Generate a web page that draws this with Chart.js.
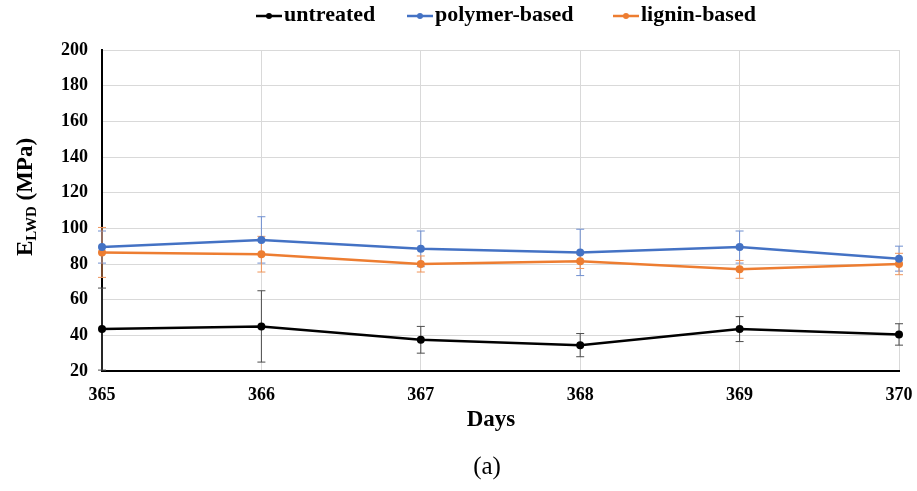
<!DOCTYPE html>
<html>
<head>
<meta charset="utf-8">
<script src="https://cdn.jsdelivr.net/npm/chart.js@4"></script>
<style>
  html, body { margin: 0; padding: 0; background: #fff; }
  #wrap { width: 917px; height: 491px; }
</style>
</head>
<body>
<div id="wrap"><canvas id="chart" width="917" height="491"></canvas></div>
<script>
const days = ['365', '366', '367', '368', '369', '370'];

const untreated = [43.5, 45, 37.5, 34.5, 43.5, 40.5];
const untreatedErr = [23, 20, 7.5, 6.5, 7, 6];

const polymer = [89.5, 93.5, 88.5, 86.5, 89.5, 83];
const polymerErr = [9, 13, 10, 13, 9, 7];

const lignin = [86.5, 85.5, 80, 81.5, 77, 80];
const ligninErr = [14, 10, 4.5, 4, 5, 6];

const serif = '"Liberation Serif", "Times New Roman", serif';

const series = [
  { label: 'untreated', data: untreated, err: untreatedErr, color: '#000000', errColor: '#4d4d4d' },
  { label: 'polymer-based', data: polymer, err: polymerErr, color: '#4472C4', errColor: '#6f8fd0' },
  { label: 'lignin-based', data: lignin, err: ligninErr, color: '#ED7D31', errColor: '#f0955a' }
];

// whiskers with caps, drawn under the lines
const errorBars = {
  id: 'errorBars',
  beforeDatasetsDraw(chart) {
    const { ctx, scales: { x, y } } = chart;
    ctx.save();
    ctx.lineWidth = 1;
    chart.data.datasets.forEach((ds, i) => {
      const s = series[i];
      ctx.strokeStyle = s.errColor;
      ds.data.forEach((v, j) => {
        const px = x.getPixelForValue(j);
        const top = y.getPixelForValue(v + s.err[j]);
        const bot = y.getPixelForValue(v - s.err[j]);
        ctx.beginPath();
        ctx.moveTo(px, top); ctx.lineTo(px, bot);
        ctx.moveTo(px - 4, top); ctx.lineTo(px + 4, top);
        ctx.moveTo(px - 4, bot); ctx.lineTo(px + 4, bot);
        ctx.stroke();
      });
    });
    ctx.restore();
  }
};

// legend, axis titles and caption
const labels = {
  id: 'labels',
  afterDraw(chart) {
    const ctx = chart.ctx;
    ctx.save();
    ctx.fillStyle = '#000';
    ctx.textBaseline = 'middle';

    // legend row
    const legendX = [256, 407, 613];
    ctx.font = 'bold 22px ' + serif;
    series.forEach((s, i) => {
      const lx = legendX[i];
      ctx.strokeStyle = s.color;
      ctx.lineWidth = 2.5;
      ctx.beginPath();
      ctx.moveTo(lx, 16); ctx.lineTo(lx + 26, 16);
      ctx.stroke();
      ctx.fillStyle = s.color;
      ctx.beginPath();
      ctx.arc(lx + 13, 16, 3, 0, Math.PI * 2);
      ctx.fill();
      ctx.fillStyle = '#000';
      ctx.textAlign = 'left';
      ctx.fillText(s.label, lx + 28, 15);
    });

    // x title and caption
    ctx.textAlign = 'center';
    ctx.font = 'bold 23px ' + serif;
    ctx.fillText('Days', 491, 420);
    ctx.font = '25px ' + serif;
    ctx.fillText('(a)', 487, 467);

    // y title with subscript
    ctx.translate(26, 197);
    ctx.rotate(-Math.PI / 2);
    ctx.textAlign = 'left';
    const big = 'bold 23px ' + serif;
    const small = 'bold 15px ' + serif;
    ctx.font = big;
    const wE = ctx.measureText('E').width;
    const wRest = ctx.measureText(' (MPa)').width;
    ctx.font = small;
    const wSub = ctx.measureText('LWD').width;
    let cx = -(wE + wSub + wRest) / 2;
    ctx.font = big;
    ctx.fillText('E', cx, 0);
    cx += wE;
    ctx.font = small;
    ctx.fillText('LWD', cx, 6);
    cx += wSub;
    ctx.font = big;
    ctx.fillText(' (MPa)', cx, 0);
    ctx.restore();
  }
};

new Chart(document.getElementById('chart'), {
  type: 'line',
  data: {
    labels: days,
    datasets: series.map(s => ({
      label: s.label,
      data: s.data,
      borderColor: s.color,
      backgroundColor: s.color,
      borderWidth: 2.5,
      pointRadius: 4,
      pointBackgroundColor: s.color,
      pointBorderWidth: 0,
      tension: 0
    }))
  },
  options: {
    responsive: false,
    animation: false,
    devicePixelRatio: 1,
    layout: { padding: { top: 50, right: 18, left: 0, bottom: 0 } },
    plugins: {
      legend: { display: false },
      tooltip: { enabled: false }
    },
    scales: {
      x: {
        offset: false,
        grid: { color: '#d9d9d9', lineWidth: 1, drawTicks: false },
        border: { color: '#000', width: 2 },
        ticks: {
          color: '#000',
          padding: 14,
          maxRotation: 0,
          font: { family: serif, size: 18, weight: 'bold' }
        },
        afterFit: scale => {
          scale.height = 120;
          scale.paddingLeft = 0;
          scale.paddingRight = 0;
        }
      },
      y: {
        min: 20,
        max: 200,
        grid: { color: '#d9d9d9', lineWidth: 1, drawTicks: false },
        border: { color: '#000', width: 2 },
        ticks: {
          stepSize: 20,
          color: '#000',
          padding: 14,
          font: { family: serif, size: 18, weight: 'bold' }
        },
        afterFit: scale => {
          scale.width = 102;
          scale.paddingTop = 0;
          scale.paddingBottom = 0;
        }
      }
    }
  },
  plugins: [errorBars, labels]
});
</script>
</body>
</html>
